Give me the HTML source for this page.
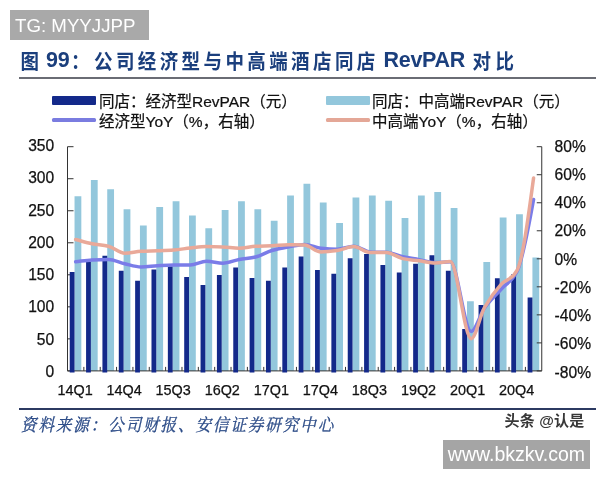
<!DOCTYPE html>
<html lang="zh-CN"><head><meta charset="utf-8"><title>图 99</title>
<style>
html,body{margin:0;padding:0;background:#fff;}
body{width:600px;height:480px;position:relative;overflow:hidden;font-family:"Liberation Sans","Noto Sans CJK SC",sans-serif;color:#111;}
.tg{position:absolute;left:10px;top:10px;width:138.7px;height:29.8px;background:#a9a9a9;color:#fff;font-size:18.7px;line-height:31px;text-indent:5px;white-space:nowrap;}
.title{position:absolute;top:48.3px;height:28px;line-height:28px;white-space:nowrap;color:#1b3f7d;font-weight:bold;font-family:"Liberation Sans","Noto Sans CJK SC",sans-serif;font-size:18.5px;letter-spacing:3.3px;transform:scaleY(1.12);transform-origin:50% 50%;}
.title.en{transform:none;font-size:21.5px;letter-spacing:-0.3px;font-family:"Liberation Sans",sans-serif;top:46px;}
.rule{position:absolute;left:18.5px;width:577.5px;height:1.5px;background:#6a6c74;}
.chart{position:absolute;left:0;top:0;}
.lg{position:absolute;font-size:15.5px;line-height:18px;white-space:nowrap;color:#111;-webkit-text-stroke:0.22px #111;}
.sw{position:absolute;}
.src{position:absolute;left:21px;top:414.1px;font-family:"Liberation Serif","Noto Serif CJK SC",serif;font-style:italic;font-weight:400;-webkit-text-stroke:0.3px #2b4b87;font-size:15.5px;letter-spacing:1.95px;color:#2b4b87;white-space:nowrap;line-height:22px;transform:scaleY(1.12);transform-origin:0 50%;}
.wm{position:absolute;left:504.5px;top:411px;font-size:15px;font-weight:bold;line-height:20px;color:#383838;white-space:nowrap;letter-spacing:0.2px;text-shadow:0 0 2px #fff;}
.url{position:absolute;left:442.7px;top:440.2px;width:147.5px;height:29.2px;background:#a5a5a5;color:#fff;font-size:19.5px;line-height:28px;text-align:center;white-space:nowrap;}
</style></head><body>
<div class="tg">TG: MYYJJPP</div>
<div class="title" style="left:20.5px">图</div>
<div class="title en" style="left:46px">99</div>
<div class="title" style="left:71px">：</div>
<div class="title" style="left:94px;letter-spacing:3.4px">公司经济型与中高端酒店同店</div>
<div class="title en" style="left:383.5px">RevPAR</div>
<div class="title" style="left:472.5px;letter-spacing:4.5px">对比</div>
<div class="rule" style="top:77.3px"></div>
<svg class="chart" width="600" height="480" viewBox="0 0 600 480">
<rect x="74.53" y="196.25" width="6.80" height="174.65" fill="#93c7dc"/>
<rect x="90.88" y="180.00" width="6.80" height="190.90" fill="#93c7dc"/>
<rect x="107.23" y="189.25" width="6.80" height="181.65" fill="#93c7dc"/>
<rect x="123.59" y="209.25" width="6.80" height="161.65" fill="#93c7dc"/>
<rect x="139.94" y="225.50" width="6.80" height="145.40" fill="#93c7dc"/>
<rect x="156.29" y="207.00" width="6.80" height="163.90" fill="#93c7dc"/>
<rect x="172.65" y="201.25" width="6.80" height="169.65" fill="#93c7dc"/>
<rect x="189.00" y="215.50" width="6.80" height="155.40" fill="#93c7dc"/>
<rect x="205.35" y="228.25" width="6.80" height="142.65" fill="#93c7dc"/>
<rect x="221.71" y="210.00" width="6.80" height="160.90" fill="#93c7dc"/>
<rect x="238.06" y="201.25" width="6.80" height="169.65" fill="#93c7dc"/>
<rect x="254.41" y="209.25" width="6.80" height="161.65" fill="#93c7dc"/>
<rect x="270.77" y="220.75" width="6.80" height="150.15" fill="#93c7dc"/>
<rect x="287.12" y="195.50" width="6.80" height="175.40" fill="#93c7dc"/>
<rect x="303.48" y="183.75" width="6.80" height="187.15" fill="#93c7dc"/>
<rect x="319.83" y="202.50" width="6.80" height="168.40" fill="#93c7dc"/>
<rect x="336.18" y="223.00" width="6.80" height="147.90" fill="#93c7dc"/>
<rect x="352.54" y="197.50" width="6.80" height="173.40" fill="#93c7dc"/>
<rect x="368.89" y="195.50" width="6.80" height="175.40" fill="#93c7dc"/>
<rect x="385.24" y="200.75" width="6.80" height="170.15" fill="#93c7dc"/>
<rect x="401.60" y="218.00" width="6.80" height="152.90" fill="#93c7dc"/>
<rect x="417.95" y="195.50" width="6.80" height="175.40" fill="#93c7dc"/>
<rect x="434.30" y="192.00" width="6.80" height="178.90" fill="#93c7dc"/>
<rect x="450.66" y="208.00" width="6.80" height="162.90" fill="#93c7dc"/>
<rect x="467.01" y="301.25" width="6.80" height="69.65" fill="#93c7dc"/>
<rect x="483.36" y="262.00" width="6.80" height="108.90" fill="#93c7dc"/>
<rect x="499.72" y="217.50" width="6.80" height="153.40" fill="#93c7dc"/>
<rect x="516.07" y="214.25" width="6.80" height="156.65" fill="#93c7dc"/>
<rect x="532.42" y="257.50" width="6.80" height="113.40" fill="#93c7dc"/>
<g stroke="#333" stroke-width="1" fill="none">
<path d="M67.50,146.70 V370.90 H541.75 V146.70"/>
<path d="M67.50,370.90 h6"/>
<path d="M67.50,338.87 h6"/>
<path d="M67.50,306.84 h6"/>
<path d="M67.50,274.81 h6"/>
<path d="M67.50,242.79 h6"/>
<path d="M67.50,210.76 h6"/>
<path d="M67.50,178.73 h6"/>
<path d="M67.50,146.70 h6"/>
<path d="M541.75,370.90 h-5"/>
<path d="M541.75,342.88 h-5"/>
<path d="M541.75,314.85 h-5"/>
<path d="M541.75,286.82 h-5"/>
<path d="M541.75,258.80 h-5"/>
<path d="M541.75,230.77 h-5"/>
<path d="M541.75,202.75 h-5"/>
<path d="M541.75,174.72 h-5"/>
<path d="M541.75,146.70 h-5"/>
<path d="M83.85,370.90 v-4"/>
<path d="M100.21,370.90 v-4"/>
<path d="M116.56,370.90 v-4"/>
<path d="M132.91,370.90 v-4"/>
<path d="M149.27,370.90 v-4"/>
<path d="M165.62,370.90 v-4"/>
<path d="M181.97,370.90 v-4"/>
<path d="M198.33,370.90 v-4"/>
<path d="M214.68,370.90 v-4"/>
<path d="M231.03,370.90 v-4"/>
<path d="M247.39,370.90 v-4"/>
<path d="M263.74,370.90 v-4"/>
<path d="M280.09,370.90 v-4"/>
<path d="M296.45,370.90 v-4"/>
<path d="M312.80,370.90 v-4"/>
<path d="M329.16,370.90 v-4"/>
<path d="M345.51,370.90 v-4"/>
<path d="M361.86,370.90 v-4"/>
<path d="M378.22,370.90 v-4"/>
<path d="M394.57,370.90 v-4"/>
<path d="M410.92,370.90 v-4"/>
<path d="M427.28,370.90 v-4"/>
<path d="M443.63,370.90 v-4"/>
<path d="M459.98,370.90 v-4"/>
<path d="M476.34,370.90 v-4"/>
<path d="M492.69,370.90 v-4"/>
<path d="M509.04,370.90 v-4"/>
<path d="M525.40,370.90 v-4"/>
</g>
<rect x="69.73" y="272.00" width="4.80" height="100.50" fill="#13298a"/>
<rect x="86.08" y="262.00" width="4.80" height="110.50" fill="#13298a"/>
<rect x="102.43" y="255.75" width="4.80" height="116.75" fill="#13298a"/>
<rect x="118.79" y="270.75" width="4.80" height="101.75" fill="#13298a"/>
<rect x="135.14" y="280.75" width="4.80" height="91.75" fill="#13298a"/>
<rect x="151.49" y="269.50" width="4.80" height="103.00" fill="#13298a"/>
<rect x="167.85" y="266.25" width="4.80" height="106.25" fill="#13298a"/>
<rect x="184.20" y="277.00" width="4.80" height="95.50" fill="#13298a"/>
<rect x="200.55" y="285.00" width="4.80" height="87.50" fill="#13298a"/>
<rect x="216.91" y="275.00" width="4.80" height="97.50" fill="#13298a"/>
<rect x="233.26" y="267.50" width="4.80" height="105.00" fill="#13298a"/>
<rect x="249.61" y="278.00" width="4.80" height="94.50" fill="#13298a"/>
<rect x="265.97" y="280.75" width="4.80" height="91.75" fill="#13298a"/>
<rect x="282.32" y="267.50" width="4.80" height="105.00" fill="#13298a"/>
<rect x="298.68" y="256.50" width="4.80" height="116.00" fill="#13298a"/>
<rect x="315.03" y="270.00" width="4.80" height="102.50" fill="#13298a"/>
<rect x="331.38" y="273.75" width="4.80" height="98.75" fill="#13298a"/>
<rect x="347.74" y="258.25" width="4.80" height="114.25" fill="#13298a"/>
<rect x="364.09" y="254.00" width="4.80" height="118.50" fill="#13298a"/>
<rect x="380.44" y="265.00" width="4.80" height="107.50" fill="#13298a"/>
<rect x="396.80" y="272.50" width="4.80" height="100.00" fill="#13298a"/>
<rect x="413.15" y="263.75" width="4.80" height="108.75" fill="#13298a"/>
<rect x="429.50" y="255.25" width="4.80" height="117.25" fill="#13298a"/>
<rect x="445.86" y="270.75" width="4.80" height="101.75" fill="#13298a"/>
<rect x="462.21" y="329.00" width="4.80" height="43.50" fill="#13298a"/>
<rect x="478.56" y="305.00" width="4.80" height="67.50" fill="#13298a"/>
<rect x="494.92" y="278.25" width="4.80" height="94.25" fill="#13298a"/>
<rect x="511.27" y="274.25" width="4.80" height="98.25" fill="#13298a"/>
<rect x="527.62" y="297.50" width="4.80" height="75.00" fill="#13298a"/>
<path d="M75.68,261.75 C81.13,261.17 86.58,260.29 92.03,260.00 C97.48,259.71 102.93,259.50 108.38,259.50 C113.83,259.50 119.29,262.52 124.74,263.75 C130.19,264.98 135.64,267.00 141.09,267.00 C146.54,267.00 151.99,266.07 157.44,265.75 C162.90,265.43 168.35,265.00 173.80,265.00 C179.25,265.00 184.70,265.00 190.15,265.00 C195.60,265.00 201.05,261.25 206.50,261.25 C211.96,261.25 217.41,263.25 222.86,263.25 C228.31,263.25 233.76,260.51 239.21,259.50 C244.66,258.49 250.11,258.28 255.56,257.00 C261.02,255.72 266.47,252.05 271.92,250.50 C277.37,248.95 282.82,247.98 288.27,247.00 C293.72,246.02 299.17,244.50 304.62,244.50 C310.08,244.50 315.53,247.70 320.98,248.30 C326.43,248.90 331.88,249.30 337.33,249.30 C342.78,249.30 348.23,246.30 353.69,246.30 C359.14,246.30 364.59,251.61 370.04,252.00 C375.49,252.39 380.94,251.96 386.39,252.30 C391.84,252.64 397.29,255.63 402.75,256.80 C408.20,257.97 413.65,258.63 419.10,259.60 C424.55,260.57 430.00,262.60 435.45,262.60 C440.40,262.60 445.35,261.80 450.31,261.80 C457.26,261.80 464.21,331.50 471.16,331.50 C475.61,331.50 480.06,314.21 484.51,308.00 C489.96,300.40 495.42,295.67 500.87,289.50 C506.32,283.33 511.77,282.10 517.22,271.00 C522.67,259.90 528.12,229.70 533.57,199.50" fill="none" stroke="#7a7ce8" stroke-width="3.5" stroke-linecap="round" stroke-linejoin="round"/>
<path d="M75.68,239.50 C81.13,240.92 86.58,242.68 92.03,243.75 C97.48,244.82 102.93,244.93 108.38,246.25 C113.83,247.57 119.29,253.25 124.74,253.25 C130.19,253.25 135.64,251.55 141.09,251.25 C146.54,250.95 151.99,250.95 157.44,250.75 C162.90,250.55 168.35,250.39 173.80,250.00 C179.25,249.61 184.70,248.57 190.15,248.00 C195.60,247.43 201.05,246.50 206.50,246.50 C211.96,246.50 217.41,246.75 222.86,247.00 C228.31,247.25 233.76,248.25 239.21,248.25 C244.66,248.25 250.11,246.55 255.56,246.25 C261.02,245.95 266.47,245.98 271.92,245.75 C277.37,245.52 282.82,244.75 288.27,244.75 C293.72,244.75 299.17,244.58 304.62,245.00 C310.08,245.42 315.53,251.90 320.98,251.90 C326.43,251.90 331.88,251.24 337.33,250.50 C342.78,249.76 348.23,246.50 353.69,246.50 C359.14,246.50 364.59,252.50 370.04,252.50 C375.49,252.50 380.94,252.50 386.39,252.50 C391.84,252.50 397.29,257.45 402.75,258.60 C408.20,259.75 413.65,260.07 419.10,260.80 C424.55,261.53 430.00,263.00 435.45,263.00 C440.40,263.00 445.35,261.60 450.31,261.60 C457.26,261.60 464.21,338.70 471.16,338.70 C475.61,338.70 480.06,315.43 484.51,307.50 C489.96,297.79 495.42,290.62 500.87,284.60 C506.32,278.58 511.77,280.74 517.22,270.00 C522.67,259.26 528.12,218.63 533.57,178.00" fill="none" stroke="#e9a999" stroke-width="3.5" stroke-linecap="round" stroke-linejoin="round"/>
<g font-family="'Liberation Sans', sans-serif" font-size="15.6" fill="#111" stroke="#111" stroke-width="0.25">
<text transform="translate(54.20,377.00) scale(1,1.00)" text-anchor="end">0</text>
<text transform="translate(54.20,344.73) scale(1,1.00)" text-anchor="end">50</text>
<text transform="translate(54.20,312.46) scale(1,1.00)" text-anchor="end">100</text>
<text transform="translate(54.20,280.19) scale(1,1.00)" text-anchor="end">150</text>
<text transform="translate(54.20,247.92) scale(1,1.00)" text-anchor="end">200</text>
<text transform="translate(54.20,215.65) scale(1,1.00)" text-anchor="end">250</text>
<text transform="translate(54.20,183.38) scale(1,1.00)" text-anchor="end">300</text>
<text transform="translate(54.20,151.11) scale(1,1.00)" text-anchor="end">350</text>
<text transform="translate(554.60,377.50) scale(1,1.00)" text-anchor="start">-80%</text>
<text transform="translate(554.60,349.26) scale(1,1.00)" text-anchor="start">-60%</text>
<text transform="translate(554.60,321.02) scale(1,1.00)" text-anchor="start">-40%</text>
<text transform="translate(554.60,292.78) scale(1,1.00)" text-anchor="start">-20%</text>
<text transform="translate(554.60,264.54) scale(1,1.00)" text-anchor="start">0%</text>
<text transform="translate(554.60,236.30) scale(1,1.00)" text-anchor="start">20%</text>
<text transform="translate(554.60,208.06) scale(1,1.00)" text-anchor="start">40%</text>
<text transform="translate(554.60,179.82) scale(1,1.00)" text-anchor="start">60%</text>
<text transform="translate(554.60,151.58) scale(1,1.00)" text-anchor="start">80%</text>
<text transform="translate(75.08,394.70) scale(1,1.00)" text-anchor="middle" font-size="14.4">14Q1</text>
<text transform="translate(124.14,394.70) scale(1,1.00)" text-anchor="middle" font-size="14.4">14Q4</text>
<text transform="translate(173.20,394.70) scale(1,1.00)" text-anchor="middle" font-size="14.4">15Q3</text>
<text transform="translate(222.26,394.70) scale(1,1.00)" text-anchor="middle" font-size="14.4">16Q2</text>
<text transform="translate(271.32,394.70) scale(1,1.00)" text-anchor="middle" font-size="14.4">17Q1</text>
<text transform="translate(320.38,394.70) scale(1,1.00)" text-anchor="middle" font-size="14.4">17Q4</text>
<text transform="translate(369.44,394.70) scale(1,1.00)" text-anchor="middle" font-size="14.4">18Q3</text>
<text transform="translate(418.50,394.70) scale(1,1.00)" text-anchor="middle" font-size="14.4">19Q2</text>
<text transform="translate(467.56,394.70) scale(1,1.00)" text-anchor="middle" font-size="14.4">20Q1</text>
<text transform="translate(516.62,394.70) scale(1,1.00)" text-anchor="middle" font-size="14.4">20Q4</text>
</g>
</svg>
<div class="sw" style="left:52px;top:96.3px;width:43.5px;height:9px;background:#13298a;border-radius:1px"></div>
<div class="lg" style="left:99px;top:92.9px">同店：经济型RevPAR（元）</div>
<div class="sw" style="left:326px;top:96.3px;width:43.5px;height:9px;background:#93c7dc;border-radius:1px"></div>
<div class="lg" style="left:372px;top:92.9px">同店：中高端RevPAR（元）</div>
<div class="sw" style="left:52px;top:118.2px;width:43.5px;height:3.4px;background:#7a7ce0;border-radius:1.5px"></div>
<div class="lg" style="left:99px;top:112.7px">经济型YoY（%，右轴）</div>
<div class="sw" style="left:326px;top:118.2px;width:43.5px;height:3.4px;background:#e4a797;border-radius:1.5px"></div>
<div class="lg" style="left:372px;top:112.7px">中高端YoY（%，右轴）</div>
<div class="rule" style="top:408.3px;height:1.8px;background:#2c3a62"></div>
<div class="src">资料来源：公司财报、安信证券研究中心</div>
<div class="wm">头条 @认是</div>
<div class="url">www.bkzkv.com</div>
</body></html>
